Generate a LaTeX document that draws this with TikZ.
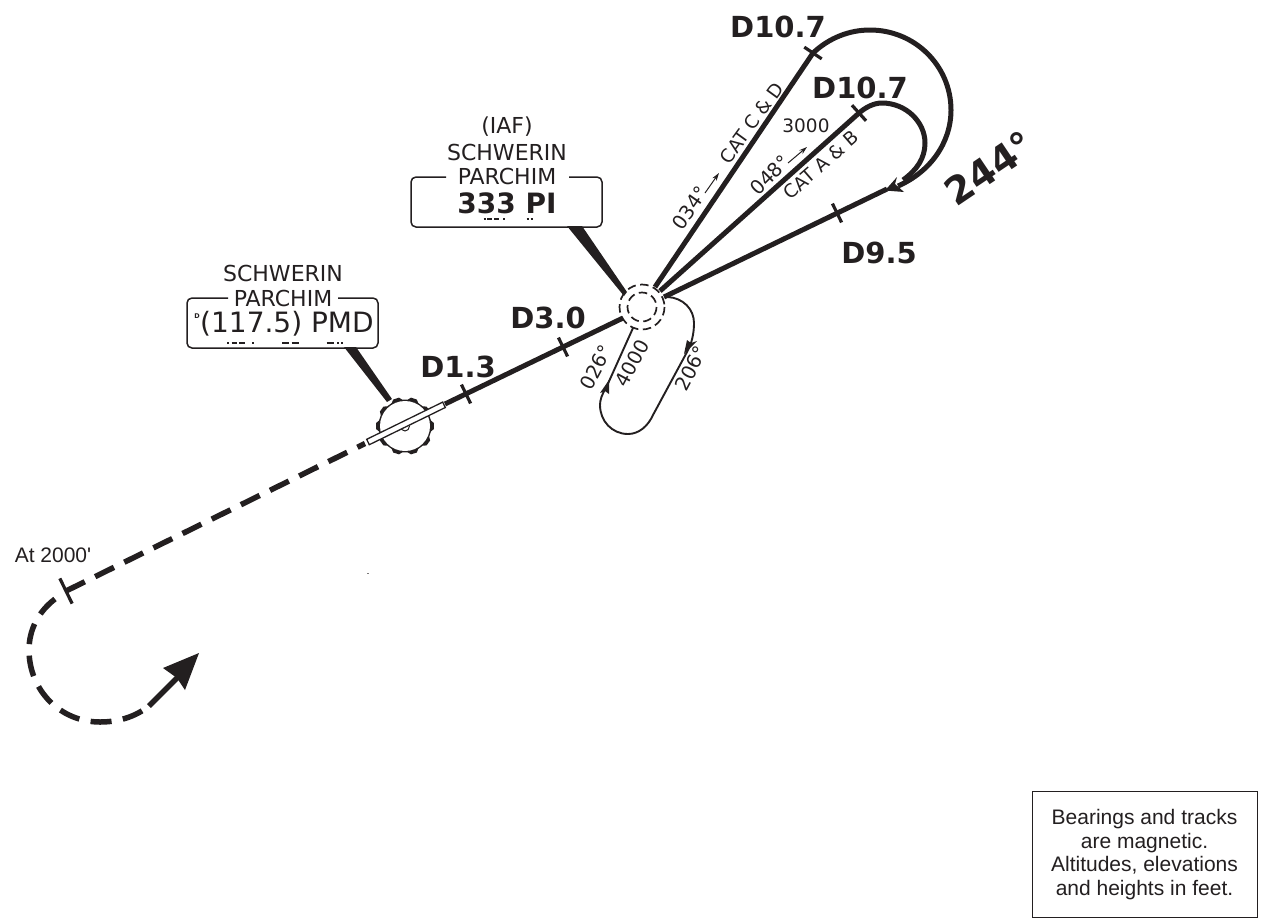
\documentclass[tikz,border=0pt]{standalone}
\usepackage{fontspec}
\setmainfont{DejaVu Sans}
\newfontfamily\arialfont{Liberation Sans}
\definecolor{ink}{HTML}{231F20}
\usetikzlibrary{arrows.meta}
\tikzset{
  every node/.style={inner sep=0pt,outer sep=0pt,text=ink},
  track/.style={draw=ink,line width=5pt},
  thintrack/.style={draw=ink,line width=1.9pt},
  dashtrack/.style={draw=ink,line width=5.5pt,dash pattern=on 21pt off 11.5pt},
  tickmark/.style={fill=ink,minimum width=3.2pt,minimum height=21pt},
  fixring/.style={draw=ink,line width=1.7pt,dash pattern=on 8.5pt off 4.5pt},
  callout/.style={draw=ink,line width=1.5pt,rounded corners=5pt},
  wedgefill/.style={fill=ink},
  morse/.style={draw=ink,line width=1.6pt},
  disttext/.style={font=\bfseries\fontsize{29}{31}\selectfont},
  idtext/.style={font=\bfseries\fontsize{28}{30}\selectfont},
  stationtext/.style={font=\fontsize{22}{24}\selectfont},
  freqtext/.style={font=\fontsize{28}{30}\selectfont},
  smalltext/.style={font=\fontsize{18.5}{20}\selectfont},
  bearingtext/.style={font=\fontsize{19.5}{21}\selectfont},
  notetext/.style={font=\arialfont\fontsize{21}{23.7}\selectfont,align=center},
  thinarrow/.style={draw=ink,line width=1pt,-{Stealth[length=8pt,width=5pt]}}
}
\begin{document}
\begin{tikzpicture}[x=1pt,y=-1pt]
\useasboundingbox (0,0) rectangle (1264,922);
% key points
\coordinate (fix) at (642,307);
\coordinate (bcn) at (405,426);
\coordinate (barA) at (368,442);
\coordinate (barB) at (443,405);
\coordinate (lineS) at (445,404);
\coordinate (lineE) at (623,318);
\coordinate (r1s) at (655,287);
\coordinate (r2s) at (660,291);
\coordinate (r3s) at (664,297);
\coordinate (r1e) at (813,53);
\coordinate (r2e) at (859,113);
\coordinate (r3e) at (887,189);
\coordinate (startpt) at (66,591);
\coordinate (dashE) at (365,443.5);
% wedges
\fill[wedgefill] (344,347) -- (356,347) -- (392,399) -- (387,402) -- cycle;
\fill[wedgefill] (567,226) -- (582,226) -- (627,292) -- (624,296) -- cycle;
% beacon
\begin{scope}[shift={(bcn)}]
\fill[ink,line join=round]
  (-6:29) \foreach \a in {0,36,...,324}{ -- (\a-6:29) -- (\a+6:29) -- (\a+12:26.5) -- (\a+24:26.5)} -- cycle;
\fill[white] (0,0) circle (25);
\draw[draw=ink,line width=1pt] (-4.5,0) arc[start angle=180,end angle=360,x radius=4.5,y radius=-5];
\end{scope}
\fill[white,draw=ink,line width=1.3pt] (barA) ++(-1.3,-2.7) -- ++(76,-37.2) -- ++(2.6,5.4) -- ++(-76,37.2) -- cycle;
% main tracks
\draw[track] (lineS) -- (lineE);
\draw[track] (r1s) -- (r1e);
\draw[track] (r2s) -- (r2e);
\draw[track] (r3s) -- (r3e);
\draw[dashtrack] (startpt) -- (dashE);
% procedure turns
\draw[track] (r1e) .. controls (829,38) and (849,30) .. (870,30)
  .. controls (915,30) and (951,66) .. (951,110)
  .. controls (951,143) and (930,172) .. (898,186);
\draw[track] (r2e) .. controls (866,107) and (874,103) .. (882,103)
  .. controls (906,103) and (925,122) .. (925,143)
  .. controls (925,158) and (917,170) .. (903,180);
\fill[ink] (885,190.5) -- (897,177) -- (895,184) -- (904,192) -- cycle;
% hook
\draw[dashtrack] (55,599) .. controls (38,612) and (29,630) .. (29,650)
  .. controls (29,690) and (60,722) .. (100,722)
  .. controls (118,722) and (135,717) .. (149,706);
\draw[draw=ink,line width=5.5pt] (149,706) -- (178,677);
\fill[ink] (199,653) -- (163,668) -- (177,678) -- (185,690) -- cycle;
% holding
\draw[thintrack] (633,328) -- (606,388) .. controls (602,394) and (600,400) .. (600,405)
  .. controls (600,421) and (612,434) .. (628,434)
  .. controls (639,434) and (648,426) .. (653,415)
  -- (687,352) .. controls (692,343) and (694,333) .. (694,323)
  .. controls (694,309) and (683,298) .. (668,297);
\fill[ink] (609,380) -- (600,393) -- (605,391) -- (609,394) -- cycle;
\fill[ink] (684,354) -- (687,340) -- (691,343) -- (697,341) -- cycle;
% fix rings
\draw[fixring] (fix) circle (22.5);
\draw[fixring] (fix) circle (14.5);
% ticks
\node[tickmark,rotate=26] (t13) at (466,394) {};
\node[tickmark,rotate=26] (t30) at (563,347) {};
\node[tickmark,rotate=56] (t107a) at (r1e) {};
\node[tickmark,rotate=42] (t107b) at (r2e) {};
\node[tickmark,rotate=26] (t95) at (837,213) {};
\node[tickmark,rotate=26,minimum height=28pt] (t2000) at (startpt) {};
% callouts
\draw[callout] (228,298) -- (187,298) -- (187,348) -- (378,348) -- (378,298) -- (338,298);
\draw[callout] (446,177) -- (411,177) -- (411,227) -- (602,227) -- (602,177) -- (569,177);
% morse
\draw[morse] (227.3,343) -- (229,343) (231.5,343) -- (237,343) (239,343) -- (245,343) (252,343) -- (254,343);
\draw[morse] (282,343) -- (289,343) (291.5,343) -- (299,343);
\draw[morse] (326.5,343) -- (334,343) (337,343) -- (339,343) (341,343) -- (343,343);
\draw[morse] (483.5,219) -- (485.5,219) (487,219) -- (492,219) (494,219) -- (499,219) (503,219) -- (505,219);
\draw[morse] (526.5,219) -- (528.5,219) (530.5,219) -- (532.5,219);
% texts
\node[stationtext] (n1) at (283,273) {SCHWERIN};
\node[stationtext] (n2) at (283,298) {PARCHIM};
\node[freqtext] (n3) at (287,324) {(117.5) PMD};
\node[font=\bfseries\fontsize{6.5}{7}\selectfont] (n4) at (197,316) {D};
\node[stationtext] (n5) at (507,127) {(IAF)};
\node[stationtext] (n6) at (507,152) {SCHWERIN};
\node[stationtext] (n7) at (507,176) {PARCHIM};
\node[idtext] (n8) at (507,203) {333 PI};
\node[disttext] (d13) at (458,367) {D1.3};
\node[disttext] (d30) at (548,318) {D3.0};
\node[disttext] (d107a) at (778,27) {D10.7};
\node[disttext] (d107b) at (860,88) {D10.7};
\node[disttext] (d95) at (879,253) {D9.5};
\node[font=\bfseries\fontsize{38}{40}\selectfont,rotate=34] (brg) at (989,168) {244°};
\node[bearingtext,rotate=62] (l026) at (596,367) {026°};
\node[bearingtext,rotate=62] (l4000) at (632,363) {4000};
\node[bearingtext,rotate=62] (l206) at (691,368) {206°};
\node[bearingtext,rotate=55] (l034) at (690,208) {034°};
\node[smalltext,rotate=54] (lcd) at (752,123) {CAT C \& D};
\node[bearingtext,rotate=45] (l048) at (770,175) {048°};
\node[smalltext,rotate=41] (lab) at (821,165) {CAT A \& B};
\node[smalltext] (l3000) at (806,126) {3000};
\coordinate (a1s) at (705,193); \coordinate (a1e) at (719,173);
\coordinate (a2s) at (788,163); \coordinate (a2e) at (807,147);
\draw[thinarrow] (a1s) -- (a1e);
\draw[thinarrow] (a2s) -- (a2e);
\node[font=\arialfont\fontsize{21}{23}\selectfont] (at2000) at (53,555) {At 2000'};
\draw[draw=ink,line width=1pt,fill=white] (1032,791) rectangle (1257,917);
\node[notetext] (noteT) at (1144.5,854.7) {Bearings and tracks\\are magnetic.\\Altitudes, elevations\\and heights in feet.};
\fill[ink!60] (367,572.6) rectangle (368.5,573.6);
\end{tikzpicture}
\end{document}
